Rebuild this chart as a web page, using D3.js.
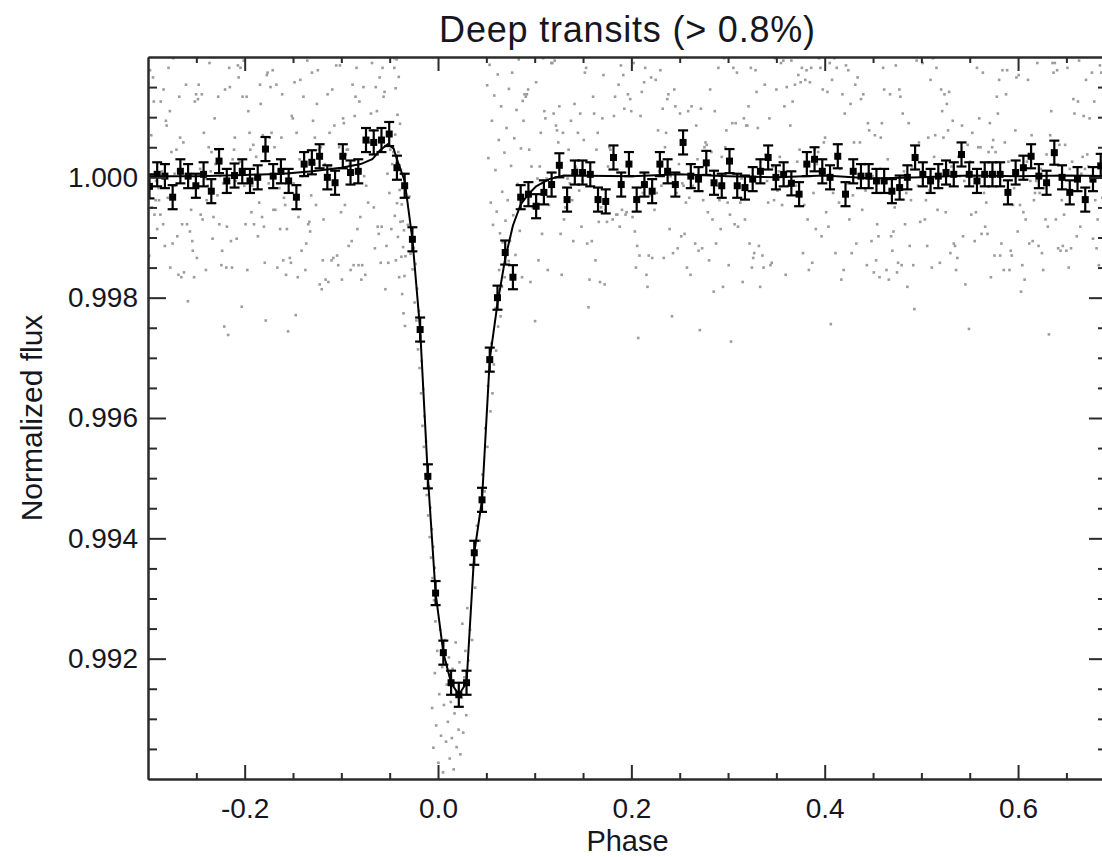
<!DOCTYPE html>
<html>
<head>
<meta charset="utf-8">
<script src="https://cdn.jsdelivr.net/npm/d3@7"></script>
<style>
body { margin: 0; background: #fff; }
svg { display: block; font-family: "Liberation Sans", Arial, Helvetica, sans-serif; }
.axis path, .axis line { stroke: #2b2b2b; stroke-width: 2; }
.axis text { font-size: 28px; fill: #16161e; }
.bin line { stroke: #000; stroke-width: 2.2; }
.bin rect { fill: #000; }
.curve { fill: none; stroke: #000; stroke-width: 2; }
.dot { fill: #9c9c9c; }
</style>
</head>
<body>
<div id="chart"></div>
<script>
// Binned light curve (phase bin centres and mean flux)
var binPhase = [
  -0.2985, -0.2905, -0.2825, -0.2745, -0.2665, -0.2585, -0.2505, -0.2425, -0.2345, -0.2265,
  -0.2185, -0.2105, -0.2025, -0.1945, -0.1865, -0.1785, -0.1705, -0.1625, -0.1545, -0.1465,
  -0.1385, -0.1305, -0.1225, -0.1145, -0.1065, -0.0985, -0.0905, -0.0825, -0.0745, -0.0665,
  -0.0585, -0.0505, -0.0425, -0.0345, -0.0265, -0.0185, -0.0105, -0.0025, 0.0055, 0.0135,
  0.0215, 0.0295, 0.0375, 0.0455, 0.0535, 0.0615, 0.0695, 0.0775, 0.0855, 0.0935,
  0.1015, 0.1095, 0.1175, 0.1255, 0.1335, 0.1415, 0.1495, 0.1575, 0.1655, 0.1735,
  0.1815, 0.1895, 0.1975, 0.2055, 0.2135, 0.2215, 0.2295, 0.2375, 0.2455, 0.2535,
  0.2615, 0.2695, 0.2775, 0.2855, 0.2935, 0.3015, 0.3095, 0.3175, 0.3255, 0.3335,
  0.3415, 0.3495, 0.3575, 0.3655, 0.3735, 0.3815, 0.3895, 0.3975, 0.4055, 0.4135,
  0.4215, 0.4295, 0.4375, 0.4455, 0.4535, 0.4615, 0.4695, 0.4775, 0.4855, 0.4935,
  0.5015, 0.5095, 0.5175, 0.5255, 0.5335, 0.5415, 0.5495, 0.5575, 0.5655, 0.5735,
  0.5815, 0.5895, 0.5975, 0.6055, 0.6135, 0.6215, 0.6295, 0.6375, 0.6455, 0.6535,
  0.6615, 0.6695, 0.6775, 0.6855, 0.6935
];
var binFlux = [
  0.99985, 1.00005, 1.00002, 0.99967, 1.00010, 1.00002, 0.99986, 1.00005, 0.99977, 1.00027,
  0.99994, 1.00003, 1.00010, 0.99994, 1.00000, 1.00047, 1.00002, 1.00010, 0.99994, 0.99967,
  1.00022, 1.00025, 1.00035, 1.00000, 0.99991, 1.00035, 1.00008, 1.00010, 1.00062, 1.00058,
  1.00062, 1.00072, 1.00016, 0.99986, 0.99897, 0.99747, 0.99503, 0.99309, 0.99210, 0.99160,
  0.99140, 0.99160, 0.99376, 0.99464, 0.99697, 0.99800, 0.99875, 0.99834, 0.99967, 0.99972,
  0.99952, 0.99975, 0.99988, 1.00020, 0.99963, 1.00008, 1.00008, 1.00005, 0.99963, 0.99960,
  1.00033, 0.99988, 1.00022, 0.99963, 0.99988, 0.99977, 1.00022, 1.00010, 0.99988, 1.00058,
  1.00002, 0.99997, 1.00024, 0.99991, 0.99986, 1.00027, 0.99986, 0.99983, 0.99997, 1.00010,
  1.00033, 1.00000, 1.00005, 0.99990, 0.99972, 1.00022, 1.00030, 1.00010, 1.00000, 1.00035,
  0.99972, 1.00010, 1.00002, 1.00002, 0.99994, 0.99994, 0.99977, 0.99983, 1.00000, 1.00033,
  1.00005, 0.99994, 1.00002, 1.00008, 1.00005, 1.00038, 1.00005, 0.99994, 1.00005, 1.00005,
  1.00005, 0.99975, 1.00008, 1.00016, 1.00035, 1.00002, 0.99991, 1.00041, 1.00000, 0.99975,
  0.99997, 0.99963, 0.99997, 1.00019, 1.00000
];
var binError = 0.0002;

// Smoothed curve drawn through the bins
var curvePhase = [-0.300, -0.250, -0.200, -0.160, -0.130, -0.100, -0.080, -0.068, -0.060, -0.052,
  -0.046, -0.0425, -0.0345, -0.0265, -0.0185, -0.0105, -0.0025, 0.0055, 0.0135, 0.0215,
  0.0295, 0.0375, 0.0455, 0.0535, 0.0615, 0.0695, 0.0775, 0.0855, 0.0935, 0.1015,
  0.115, 0.130, 0.200, 0.250, 0.300, 0.350, 0.400, 0.450, 0.500, 0.550, 0.600, 0.650, 0.692];
var curveFlux = [1.00002, 1.00002, 1.00004, 1.00006, 1.00010, 1.00016, 1.00022, 1.00030, 1.00045, 1.00055,
  1.00048, 1.00030, 0.99994, 0.99897, 0.99747, 0.99503, 0.99309, 0.99210, 0.99160, 0.99140,
  0.99160, 0.99376, 0.99464, 0.99697, 0.99790, 0.99865, 0.99920, 0.99955, 0.99972, 0.99985,
  0.99997, 1.00003, 1.00002, 1.00005, 1.00002, 1.00000, 1.00003, 0.99998, 1.00000, 1.00003, 1.00002, 1.00003, 1.00002];

// Unbinned measurements before ingress
var beforePhase = [
  -0.2994,-0.2987,-0.2979,-0.2966,-0.2961,-0.2948,-0.2940,-0.2933,-0.2921,-0.2917,-0.2905,-0.2891,-0.2886,-0.2872,-0.2868,-0.2855,
  -0.2843,-0.2839,-0.2826,-0.2815,-0.2807,-0.2796,-0.2788,-0.2774,-0.2769,-0.2757,-0.2745,-0.2738,-0.2725,-0.2719,-0.2706,-0.2697,
  -0.2685,-0.2676,-0.2668,-0.2655,-0.2647,-0.2634,-0.2628,-0.2614,-0.2607,-0.2596,-0.2587,-0.2573,-0.2566,-0.2554,-0.2542,-0.2537,
  -0.2523,-0.2515,-0.2502,-0.2494,-0.2483,-0.2476,-0.2461,-0.2455,-0.2443,-0.2435,-0.2422,-0.2414,-0.2401,-0.2393,-0.2382,-0.2372,
  -0.2364,-0.2351,-0.2343,-0.2332,-0.2323,-0.2311,-0.2302,-0.2295,-0.2281,-0.2274,-0.2262,-0.2254,-0.2241,-0.2233,-0.2222,-0.2211,
  -0.2203,-0.2190,-0.2184,-0.2171,-0.2160,-0.2153,-0.2142,-0.2131,-0.2124,-0.2110,-0.2102,-0.2091,-0.2083,-0.2070,-0.2062,-0.2051,
  -0.2043,-0.2030,-0.2022,-0.2010,-0.2004,-0.1991,-0.1980,-0.1973,-0.1962,-0.1950,-0.1942,-0.1930,-0.1922,-0.1911,-0.1903,-0.1890,
  -0.1881,-0.1870,-0.1863,-0.1850,-0.1841,-0.1834,-0.1820,-0.1812,-0.1801,-0.1792,-0.1782,-0.1771,-0.1763,-0.1751,-0.1741,-0.1733,
  -0.1722,-0.1710,-0.1703,-0.1691,-0.1683,-0.1672,-0.1662,-0.1653,-0.1641,-0.1633,-0.1620,-0.1612,-0.1601,-0.1594,-0.1581,-0.1572,
  -0.1563,-0.1551,-0.1542,-0.1533,-0.1521,-0.1513,-0.1502,-0.1493,-0.1484,-0.1472,-0.1463,-0.1451,-0.1443,-0.1432,-0.1424,-0.1411,
  -0.1403,-0.1392,-0.1383,-0.1372,-0.1363,-0.1352,-0.1343,-0.1331,-0.1323,-0.1312,-0.1304,-0.1293,-0.1281,-0.1274,-0.1262,-0.1253,
  -0.1243,-0.1232,-0.1224,-0.1212,-0.1203,-0.1192,-0.1184,-0.1172,-0.1163,-0.1153,-0.1142,-0.1134,-0.1122,-0.1113,-0.1102,-0.1094,
  -0.1083,-0.1072,-0.1064,-0.1053,-0.1044,-0.1032,-0.1023,-0.1014,-0.1003,-0.0994,-0.0982,-0.0974,-0.0963,-0.0953,-0.0944,-0.0932,
  -0.0924,-0.0913,-0.0904,-0.0893,-0.0884,-0.0873,-0.0862,-0.0854,-0.0843,-0.0834,-0.0822,-0.0813,-0.0804,-0.0793,-0.0784,-0.0772,
  -0.0764,-0.0752,-0.0743,-0.0734,-0.0723,-0.0714,-0.0702,-0.0694,-0.0683,-0.0673,-0.0664,-0.0653,-0.0644,-0.0632,-0.0624,-0.0613,
  -0.0604,-0.0593,-0.0583,-0.0574,-0.0563,-0.0553,-0.0544,-0.0533,-0.0523,-0.0514,-0.0503,-0.0494,-0.0483,-0.0474,-0.0462,-0.0453
];
var beforeFlux = [
  0.99866,0.99870,1.00178,1.00070,0.99950,1.00166,1.00126,0.99938,0.99962,0.99994,0.99914,0.99982,0.99962,0.99938,1.00126,1.00010,
  0.99922,1.00146,0.99886,1.00094,1.00086,0.99966,1.00182,1.00110,0.99850,1.00042,0.99890,1.00198,1.00006,0.99986,1.00046,0.99902,
  0.99838,1.00134,1.00066,0.99834,0.99922,1.00058,0.99842,1.00206,1.00154,0.99922,0.99794,1.00002,0.99910,0.99946,0.99894,0.99878,
  0.99834,1.00126,1.00138,0.99866,1.00130,1.00154,1.00014,0.99938,1.00138,0.99930,1.00074,0.99998,0.99846,0.99962,0.99986,1.00050,
  1.00190,1.00010,1.00042,0.99898,0.99934,1.00098,1.00022,1.00046,0.99970,1.00134,0.99922,1.00002,0.99854,0.99878,0.99990,0.99752,
  1.00146,0.99850,0.99918,0.99738,1.00182,1.00150,0.99894,0.99850,1.00030,1.00046,1.00066,0.99994,0.99898,1.00186,1.00166,1.00026,
  1.00182,0.99785,1.00134,1.00194,0.99986,0.99922,1.00134,0.99846,1.00110,1.00074,1.00046,0.99942,0.99986,1.00054,0.99922,0.99998,
  1.00034,1.00002,0.99902,0.99958,1.00154,1.00122,0.99934,1.00070,0.99918,0.99858,0.99762,1.00170,1.00174,0.99990,1.00066,1.00150,
  1.00074,1.00178,0.99946,1.00050,0.99946,1.00154,0.99850,0.99990,0.99982,0.99914,1.00066,1.00138,0.99862,0.99966,0.99954,0.99838,
  0.99914,0.99744,1.00006,0.99866,0.99858,1.00102,1.00098,0.99990,1.00158,0.99771,1.00074,0.99834,0.99934,1.00030,1.00162,0.99878,
  1.00002,1.00134,1.00018,0.99846,0.99890,1.00194,0.99922,0.99926,0.99910,0.99970,1.00174,1.00094,1.00022,1.00066,0.99954,1.00122,
  1.00178,1.00046,0.99822,1.00050,0.99814,0.99862,0.99930,1.00022,0.99830,1.00002,1.00138,0.99826,1.00074,1.00018,0.99862,1.00146,
  0.99866,1.00086,1.00014,1.00186,0.99870,0.99854,1.00050,1.00186,0.99942,0.99830,1.00098,1.00090,0.99954,1.00038,1.00046,1.00046,
  0.99886,1.00022,0.99846,0.99894,1.00154,0.99854,1.00102,1.00134,1.00182,0.99914,0.99854,1.00126,0.99934,0.99830,0.99854,1.00150,
  1.00002,0.99838,0.99986,1.00058,0.99958,1.00206,1.00058,1.00106,1.00190,1.00078,0.99950,0.99882,1.00150,1.00110,0.99918,0.99906,
  1.00166,0.99858,0.99918,1.00182,1.00134,1.00142,0.99814,0.99886,1.00006,0.99858,0.99974,1.00046,0.99914,1.00022,1.00042,1.00198
];

// Unbinned measurements through ingress, transit bottom and egress, [phase, flux]
var transitPoints = [
  [-0.0452,1.00182],[-0.0447,0.99936],[-0.0443,1.00071],[-0.0439,1.00148],[-0.0436,0.99862],[-0.0431,1.00023],[-0.0428,1.00196],[-0.0424,0.99957],
  [-0.0419,1.00104],[-0.0415,0.99901],[-0.0411,1.00042],[-0.0406,1.00167],[-0.0402,0.99834],[-0.0397,0.99979],[-0.0393,1.00089],[-0.0389,0.99926],
  [-0.0384,1.00013],[-0.0379,0.99868],[-0.0375,0.99955],[-0.0371,0.99806],[-0.0366,0.99927],[-0.0361,0.99884],[-0.0357,0.99774],[-0.0352,0.99912],
  [-0.0347,0.99836],[-0.0342,0.99753],[-0.0337,0.99869],[-0.0312,0.99921],[-0.0296,0.99968],[-0.0285,0.99873],[-0.0274,0.99912],[-0.0263,0.99847],
  [-0.0251,0.99883],[-0.0242,0.99792],[-0.0233,0.99856],[-0.0224,0.99762],[-0.0216,0.99815],[-0.0207,0.99714],[-0.0198,0.99778],[-0.0191,0.99683],
  [-0.0183,0.99736],[-0.0176,0.99641],[-0.0168,0.99695],[-0.0161,0.99587],[-0.0153,0.99648],[-0.0146,0.99552],[-0.0139,0.99603],[-0.0131,0.99506],
  [-0.0124,0.99561],[-0.0117,0.99472],[-0.0109,0.99523],[-0.0102,0.99438],[-0.0094,0.99486],[-0.0087,0.99402],[-0.0079,0.99451],[-0.0072,0.99368],
  [-0.0064,0.99415],[-0.0057,0.99334],[-0.0049,0.99386],[-0.0042,0.99297],[-0.0034,0.99351],[-0.0027,0.99262],
  [-0.0061,0.99118],[-0.0048,0.99052],[-0.0033,0.99176],[-0.0019,0.99089],[-0.0008,0.99213],[0.0004,0.99027],[0.0013,0.99141],[0.0022,0.99248],
  [0.0031,0.99072],[0.0043,0.99186],[0.0052,0.99011],[0.0061,0.99123],[0.0072,0.99231],[0.0083,0.99062],[0.0091,0.99157],[0.0102,0.99095],
  [0.0113,0.99202],[0.0121,0.99034],[0.0132,0.99128],[0.0143,0.99068],[0.0151,0.99183],[0.0162,0.99016],[0.0171,0.99109],[0.0183,0.99227],
  [0.0192,0.99053],[0.0201,0.99146],[0.0213,0.99082],[0.0222,0.99194],[0.0231,0.99041],[0.0243,0.99135],[0.0252,0.99258],[0.0261,0.99077],
  [0.0272,0.99169],[0.0283,0.99213],[0.0292,0.99106],[0.0303,0.99284],[0.0314,0.99197],
  [0.0331,0.99248],[0.0352,0.99231],[0.0362,0.99352],[0.0384,0.99318],[0.0402,0.99421],[0.0431,0.99396],[0.0459,0.99506],[0.0482,0.99478],
  [0.0488,0.99583],[0.0511,0.99552],[0.0517,0.99653],[0.0542,0.99611],[0.0563,0.99641],[0.0552,0.99724],[0.0578,0.99689],[0.0601,0.99712],
  [0.0596,0.99783],[0.0622,0.99752],[0.0647,0.99769],[0.0632,0.99846],[0.0661,0.99818],[0.0689,0.99834],[0.0668,0.99892],[0.0703,0.99873],
  [0.0731,0.99861],
  [0.0508,1.00153],[0.0521,1.00032],[0.0533,1.00187],[0.0546,0.99958],[0.0557,1.00094],[0.0569,0.99921],[0.0582,1.00136],[0.0594,1.00012],
  [0.0607,0.99943],[0.0618,1.00171],[0.0629,1.00062],[0.0641,0.99907],[0.0653,1.00118],[0.0664,0.99976],[0.0676,1.00203],[0.0687,1.00041],
  [0.0698,0.99928],[0.0709,1.00082],[0.0721,0.99962],[0.0733,1.00147],[0.0744,0.99894],[0.0756,1.00019],[0.0767,1.00174],[0.0778,0.99937],
  [0.0789,1.00065],[0.0801,0.99871],[0.0812,1.00112],[0.0823,0.99989],[0.0835,1.00196],[0.0846,0.99911],[0.0858,1.00048],[0.0869,0.99834],
  [0.0876,1.00127]
];

// Unbinned measurements after egress
var afterPhase = [
  0.0884,0.0895,0.0908,0.0919,0.0932,0.0943,0.0956,0.0967,0.0980,0.0991,0.1004,0.1015,0.1028,0.1039,0.1052,0.1063,0.1076,0.1087,0.1100,0.1111,
  0.1124,0.1135,0.1148,0.1159,0.1172,0.1183,0.1196,0.1207,0.1220,0.1231,0.1244,0.1255,0.1268,0.1279,0.1292,0.1303,0.1316,0.1327,0.1340,0.1351,
  0.1364,0.1375,0.1388,0.1399,0.1412,0.1423,0.1436,0.1447,0.1460,0.1471,0.1484,0.1495,0.1508,0.1519,0.1532,0.1543,0.1556,0.1567,0.1580,0.1591,
  0.1604,0.1615,0.1628,0.1639,0.1652,0.1663,0.1676,0.1687,0.1700,0.1711,0.1724,0.1735,0.1748,0.1759,0.1772,0.1783,0.1796,0.1807,0.1820,0.1831,
  0.1844,0.1855,0.1868,0.1879,0.1892,0.1903,0.1916,0.1927,0.1940,0.1951,0.1964,0.1975,0.1988,0.1999,0.2012,0.2023,0.2036,0.2047,0.2060,0.2071,
  0.2084,0.2095,0.2108,0.2119,0.2132,0.2143,0.2156,0.2167,0.2180,0.2191,0.2204,0.2215,0.2228,0.2239,0.2252,0.2263,0.2276,0.2287,0.2300,0.2311,
  0.2324,0.2335,0.2348,0.2359,0.2372,0.2383,0.2396,0.2407,0.2420,0.2431,0.2444,0.2455,0.2468,0.2479,0.2492,0.2503,0.2516,0.2527,0.2540,0.2551,
  0.2564,0.2575,0.2588,0.2599,0.2612,0.2623,0.2636,0.2647,0.2660,0.2671,0.2684,0.2695,0.2708,0.2719,0.2732,0.2743,0.2756,0.2767,0.2780,0.2791,
  0.2804,0.2815,0.2828,0.2839,0.2852,0.2863,0.2876,0.2887,0.2900,0.2911,0.2924,0.2935,0.2948,0.2959,0.2972,0.2983,0.2996,0.3007,0.3020,0.3031,
  0.3044,0.3055,0.3068,0.3079,0.3092,0.3103,0.3116,0.3127,0.3140,0.3151,0.3164,0.3175,0.3188,0.3199,0.3212,0.3223,0.3236,0.3247,0.3260,0.3271,
  0.3284,0.3295,0.3308,0.3319,0.3332,0.3343,0.3356,0.3367,0.3380,0.3391,0.3404,0.3415,0.3428,0.3439,0.3452,0.3463,0.3476,0.3487,0.3500,0.3511,
  0.3524,0.3535,0.3548,0.3559,0.3572,0.3583,0.3596,0.3607,0.3620,0.3631,0.3644,0.3655,0.3668,0.3679,0.3692,0.3703,0.3716,0.3727,0.3740,0.3751,
  0.3764,0.3775,0.3788,0.3799,0.3812,0.3823,0.3836,0.3847,0.3860,0.3871,0.3884,0.3895,0.3908,0.3919,0.3932,0.3943,0.3956,0.3967,0.3980,0.3991,
  0.4004,0.4015,0.4028,0.4039,0.4052,0.4063,0.4076,0.4087,0.4100,0.4111,0.4124,0.4135,0.4148,0.4159,0.4172,0.4183,0.4196,0.4207,0.4220,0.4231,
  0.4244,0.4255,0.4268,0.4279,0.4292,0.4303,0.4316,0.4327,0.4340,0.4351,0.4364,0.4375,0.4388,0.4399,0.4412,0.4423,0.4436,0.4447,0.4460,0.4471,
  0.4484,0.4495,0.4508,0.4519,0.4532,0.4543,0.4556,0.4567,0.4580,0.4591,0.4604,0.4615,0.4628,0.4639,0.4652,0.4663,0.4676,0.4687,0.4700,0.4711,
  0.4724,0.4735,0.4748,0.4759,0.4772,0.4783,0.4796,0.4807,0.4820,0.4831,0.4844,0.4855,0.4868,0.4879,0.4892,0.4903,0.4916,0.4927,0.4940,0.4951,
  0.4964,0.4975,0.4988,0.4999,0.5012,0.5023,0.5036,0.5047,0.5060,0.5071,0.5084,0.5095,0.5108,0.5119,0.5132,0.5143,0.5156,0.5167,0.5180,0.5191,
  0.5204,0.5215,0.5228,0.5239,0.5252,0.5263,0.5276,0.5287,0.5300,0.5311,0.5324,0.5335,0.5348,0.5359,0.5372,0.5383,0.5396,0.5407,0.5420,0.5431,
  0.5444,0.5455,0.5468,0.5479,0.5492,0.5503,0.5516,0.5527,0.5540,0.5551,0.5564,0.5575,0.5588,0.5599,0.5612,0.5623,0.5636,0.5647,0.5660,0.5671,
  0.5684,0.5695,0.5708,0.5719,0.5732,0.5743,0.5756,0.5767,0.5780,0.5791,0.5804,0.5815,0.5828,0.5839,0.5852,0.5863,0.5876,0.5887,0.5900,0.5911,
  0.5924,0.5935,0.5948,0.5959,0.5972,0.5983,0.5996,0.6007,0.6020,0.6031,0.6044,0.6055,0.6068,0.6079,0.6092,0.6103,0.6116,0.6127,0.6140,0.6151,
  0.6164,0.6175,0.6188,0.6199,0.6212,0.6223,0.6236,0.6247,0.6260,0.6271,0.6284,0.6295,0.6308,0.6319,0.6332,0.6343,0.6356,0.6367,0.6380,0.6391,
  0.6404,0.6415,0.6428,0.6439,0.6452,0.6463,0.6476,0.6487,0.6500,0.6511,0.6524,0.6535,0.6548,0.6559,0.6572,0.6583,0.6596,0.6607,0.6620,0.6631,
  0.6644,0.6655,0.6668,0.6679,0.6692,0.6703,0.6716,0.6727,0.6740,0.6751,0.6764,0.6775,0.6788,0.6799,0.6812,0.6823,0.6836,0.6847,0.6860,0.6871
];
var afterFlux = [
  1.00094,1.00138,1.00134,1.00138,1.00146,1.00046,0.99826,1.00018,0.99950,0.99954,0.99761,1.00158,0.99998,0.99862,1.00018,1.00074,0.99906,1.00198,1.00110,1.00098,
  0.99998,0.99846,0.99954,1.00206,1.00190,1.00190,1.00106,1.00194,1.00086,1.00078,1.00058,1.00118,0.99906,0.99838,1.00074,0.99930,0.99950,0.99950,0.99998,1.00046,
  0.99990,1.00094,0.99962,0.99894,1.00122,1.00018,1.00014,1.00074,0.99978,1.00106,0.99918,0.99994,1.00062,1.00174,1.00182,0.99890,0.99784,0.99830,1.00206,0.99894,
  1.00134,1.00106,0.99862,1.00046,1.00074,0.99926,0.99826,0.99950,1.00098,1.00170,0.99822,0.99946,0.99926,1.00018,1.00050,1.00046,1.00034,0.99930,1.00102,1.00134,
  0.99938,0.99938,1.00154,0.99918,1.00186,0.99946,1.00170,1.00114,0.99938,0.99942,1.00138,1.00202,1.00130,1.00110,0.99934,1.00190,0.99910,0.99850,0.99886,0.99733,
  0.99870,1.00102,1.00142,0.99974,1.00158,1.00182,0.99838,0.99818,0.99870,0.99970,1.00166,0.99866,1.00206,0.99946,1.00162,0.99974,1.00078,1.00010,1.00178,0.99986,
  1.00114,0.99866,1.00050,1.00074,1.00130,1.00138,0.99914,1.00002,0.99769,0.99874,1.00146,1.00118,0.99974,0.99882,1.00022,1.00106,0.99902,0.99990,0.99986,0.99906,
  0.99958,0.99850,1.00110,0.99966,0.99838,1.00118,0.99986,1.00206,0.99890,1.00086,1.00030,0.99878,0.99746,1.00114,0.99882,0.99962,1.00050,1.00058,1.00054,0.99942,
  0.99862,1.00146,1.00042,0.99930,0.99810,1.00110,0.99890,0.99986,1.00182,0.99962,0.99914,1.00034,0.99818,1.00198,1.00050,1.00078,0.99958,0.99854,0.99938,0.99727,
  1.00090,1.00182,0.99922,1.00090,1.00174,0.99918,0.99986,0.99958,0.99998,0.99826,1.00098,0.99930,1.00086,1.00086,1.00118,0.99890,1.00182,0.99850,0.99866,0.99874,
  1.00178,1.00142,1.00082,0.99886,0.99818,1.00030,0.99870,0.99850,1.00154,1.00038,0.99994,0.99958,1.00098,0.99854,0.99858,1.00018,0.99962,1.00198,1.00146,0.99978,
  1.00010,1.00034,1.00190,0.99954,1.00194,1.00118,0.99838,1.00150,0.99986,1.00206,1.00086,1.00194,1.00126,0.99994,1.00154,0.99986,1.00026,1.00170,1.00046,1.00158,
  1.00182,0.99874,0.99954,1.00162,1.00178,0.99930,0.99846,1.00158,1.00182,0.99858,0.99974,1.00046,0.99914,1.00022,1.00042,1.00198,1.00182,0.99902,1.00146,1.00058,
  1.00066,0.99942,1.00142,0.99918,1.00190,0.99756,1.00162,0.99974,1.00198,0.99874,1.00182,1.00206,0.99958,1.00014,0.99830,1.00138,0.99846,1.00106,1.00186,0.99990,
  1.00178,0.99930,1.00122,0.99874,0.99970,1.00058,1.00154,0.99890,1.00166,1.00202,1.00058,1.00130,0.99946,1.00138,1.00022,0.99978,0.99854,1.00090,1.00078,1.00202,
  0.99894,1.00002,0.99842,1.00070,0.99862,0.99922,0.99902,0.99834,1.00066,1.00090,1.00182,1.00146,0.99994,0.99846,1.00030,0.99830,1.00138,0.99902,0.99878,0.99910,
  0.99950,1.00186,0.99842,0.99858,1.00146,1.00134,0.99854,1.00106,1.00010,0.99922,0.99974,0.99818,1.00090,0.99886,0.99962,1.00018,0.99854,0.99781,1.00030,1.00194,
  0.99986,1.00058,0.99926,1.00002,1.00190,1.00006,0.99930,0.99962,0.99886,1.00066,0.99978,1.00162,0.99850,1.00198,1.00034,1.00070,1.00182,0.99946,0.99994,0.99858,
  1.00146,1.00110,1.00066,1.00138,0.99942,1.00122,1.00078,1.00142,0.99874,1.00018,1.00094,0.99890,0.99886,0.99846,0.99866,1.00034,1.00002,1.00034,1.00086,0.99902,
  0.99994,0.99822,1.00002,1.00054,0.99748,1.00026,0.99938,1.00074,1.00002,0.99894,0.99942,1.00182,1.00050,1.00098,1.00050,0.99906,1.00174,0.99974,0.99918,0.99958,
  0.99906,1.00042,1.00090,0.99834,1.00050,1.00062,0.99870,1.00042,1.00134,1.00106,1.00162,0.99870,0.99890,1.00178,0.99846,1.00058,1.00138,1.00178,1.00026,0.99846,
  0.99878,0.99870,0.99954,0.99982,1.00078,1.00166,0.99910,1.00170,0.99954,0.99810,0.99854,0.99942,0.99830,0.99930,1.00026,1.00162,0.99890,0.99994,1.00070,0.99894,
  0.99962,0.99974,0.99994,1.00190,0.99886,0.99974,1.00014,0.99874,0.99846,0.99982,0.99930,1.00038,0.99918,0.99739,1.00070,1.00110,1.00190,1.00174,1.00190,0.99930,
  1.00178,0.99882,1.00054,0.99878,0.99962,0.99886,0.99938,1.00054,0.99878,1.00182,0.99850,1.00014,0.99882,1.00026,1.00130,1.00106,0.99994,0.99902,1.00126,1.00194,
  0.99918,1.00006,1.00034,1.00102,1.00014,1.00162,1.00038,1.00018,1.00098,1.00002,1.00174,0.99898,1.00126,0.99962,0.99882,0.99930,0.99854,1.00186,1.00174,0.99966
];

// Axis ticks and labels
var xMajorTicks = [-0.2, 0.0, 0.2, 0.4, 0.6];
var xMinorTicks = [-0.25, -0.15, -0.1, -0.05, 0.05, 0.1, 0.15, 0.25, 0.3, 0.35, 0.45, 0.5, 0.55, 0.65];
var yMajorTicks = [0.992, 0.994, 0.996, 0.998, 1.000];
var yMinorTicks = [0.9905, 0.991, 0.9915, 0.9925, 0.993, 0.9935, 0.9945, 0.995, 0.9955,
  0.9965, 0.997, 0.9975, 0.9985, 0.999, 0.9995, 1.0005, 1.001, 1.0015];
var xDomain = [-0.3, 0.692];
var yDomain = [0.990, 1.002];
var titleText = "Deep transits (> 0.8%)";
var xTitle = "Phase";
var yTitle = "Normalized flux";

/**
 * Draws the phase-folded light curve.
 */
function LightCurve() {

}

LightCurve.WIDTH = 1102;
LightCurve.HEIGHT = 857;
LightCurve.LEFT = 148;
LightCurve.RIGHT = 1107;
LightCurve.TOP = 57;
LightCurve.BOTTOM = 779;

LightCurve.draw = function(location) {
    var svg = d3.select(location).append("svg")
        .attr("width", LightCurve.WIDTH)
        .attr("height", LightCurve.HEIGHT)

    var x = d3.scaleLinear().domain(xDomain).range([LightCurve.LEFT, LightCurve.RIGHT]);
    var y = d3.scaleLinear().domain(yDomain).range([LightCurve.BOTTOM, LightCurve.TOP]);

    svg.append("clipPath")
        .attr("id", "plotClip")
      .append("rect")
        .attr("x", LightCurve.LEFT)
        .attr("y", LightCurve.TOP)
        .attr("width", LightCurve.RIGHT - LightCurve.LEFT)
        .attr("height", LightCurve.BOTTOM - LightCurve.TOP)

    var plot = svg.append("g").attr("clip-path", "url(#plotClip)");

    var points = d3.zip(beforePhase, beforeFlux)
        .concat(transitPoints, d3.zip(afterPhase, afterFlux));

    LightCurve.drawScatter(plot, x, y, points);
    LightCurve.drawCurve(plot, x, y);
    LightCurve.drawBins(plot, x, y);
    LightCurve.drawAxes(svg, x, y);
    LightCurve.drawTitles(svg);
}

/**
 * Grey cloud of unbinned points.
 */
LightCurve.drawScatter = function(plot, x, y, points) {
    plot.selectAll(".dot")
        .data(points)
        .enter()
        .append("rect")
        .attr("class", "dot")
        .attr("x", function(d) { return x(d[0]) - 1.3; })
        .attr("y", function(d) { return y(d[1]) - 1.3; })
        .attr("width", 2.6)
        .attr("height", 2.6)
}

LightCurve.drawCurve = function(plot, x, y) {
    var line = d3.line()
        .x(function(d) { return x(d[0]); })
        .y(function(d) { return y(d[1]); })

    plot.append("path")
        .attr("class", "curve")
        .attr("d", line(d3.zip(curvePhase, curveFlux)))
}

/**
 * Binned points with error bars and caps.
 */
LightCurve.drawBins = function(plot, x, y) {
    var capHalf = 5;
    var bins = plot.selectAll(".bin")
        .data(d3.zip(binPhase, binFlux))
        .enter()
        .append("g")
        .attr("class", "bin")

    bins.append("line")
        .attr("x1", function(d) { return x(d[0]); })
        .attr("x2", function(d) { return x(d[0]); })
        .attr("y1", function(d) { return y(d[1] - binError); })
        .attr("y2", function(d) { return y(d[1] + binError); })

    bins.append("line")
        .attr("x1", function(d) { return x(d[0]) - capHalf; })
        .attr("x2", function(d) { return x(d[0]) + capHalf; })
        .attr("y1", function(d) { return y(d[1] + binError); })
        .attr("y2", function(d) { return y(d[1] + binError); })

    bins.append("line")
        .attr("x1", function(d) { return x(d[0]) - capHalf; })
        .attr("x2", function(d) { return x(d[0]) + capHalf; })
        .attr("y1", function(d) { return y(d[1] - binError); })
        .attr("y2", function(d) { return y(d[1] - binError); })

    bins.append("rect")
        .attr("x", function(d) { return x(d[0]) - 3.5; })
        .attr("y", function(d) { return y(d[1]) - 3.5; })
        .attr("width", 7)
        .attr("height", 7)
}

/**
 * Box axes with inward major and minor ticks on all four sides.
 */
LightCurve.drawAxes = function(svg, x, y) {
    var none = function() { return ""; };

    var bottom = svg.append("g")
        .attr("class", "axis")
        .attr("transform", "translate(0," + LightCurve.BOTTOM + ")")
        .call(d3.axisBottom(x).tickValues(xMajorTicks).tickSizeInner(-14).tickSizeOuter(0)
              .tickFormat(function(d) { return d.toFixed(1); }))
    bottom.selectAll("text").attr("y", 39).attr("dy", null)

    svg.append("g")
        .attr("class", "axis")
        .attr("transform", "translate(0," + LightCurve.BOTTOM + ")")
        .call(d3.axisBottom(x).tickValues(xMinorTicks).tickSizeInner(-6).tickSizeOuter(0).tickFormat(none))

    svg.append("g")
        .attr("class", "axis")
        .attr("transform", "translate(0," + LightCurve.TOP + ")")
        .call(d3.axisTop(x).tickValues(xMajorTicks).tickSizeInner(-14).tickSizeOuter(0).tickFormat(none))

    svg.append("g")
        .attr("class", "axis")
        .attr("transform", "translate(0," + LightCurve.TOP + ")")
        .call(d3.axisTop(x).tickValues(xMinorTicks).tickSizeInner(-6).tickSizeOuter(0).tickFormat(none))

    var left = svg.append("g")
        .attr("class", "axis")
        .attr("transform", "translate(" + LightCurve.LEFT + ",0)")
        .call(d3.axisLeft(y).tickValues(yMajorTicks).tickSizeInner(-18).tickSizeOuter(0)
              .tickFormat(function(d) { return d.toFixed(3); }))
    left.selectAll("text").attr("x", -10)

    svg.append("g")
        .attr("class", "axis")
        .attr("transform", "translate(" + LightCurve.LEFT + ",0)")
        .call(d3.axisLeft(y).tickValues(yMinorTicks).tickSizeInner(-9).tickSizeOuter(0).tickFormat(none))

    svg.append("g")
        .attr("class", "axis")
        .attr("transform", "translate(" + LightCurve.RIGHT + ",0)")
        .call(d3.axisRight(y).tickValues(yMajorTicks).tickSizeInner(-18).tickSizeOuter(0).tickFormat(none))

    svg.append("g")
        .attr("class", "axis")
        .attr("transform", "translate(" + LightCurve.RIGHT + ",0)")
        .call(d3.axisRight(y).tickValues(yMinorTicks).tickSizeInner(-9).tickSizeOuter(0).tickFormat(none))
}

LightCurve.drawTitles = function(svg) {
    var midX = (LightCurve.LEFT + LightCurve.RIGHT) / 2;
    var midY = (LightCurve.TOP + LightCurve.BOTTOM) / 2;

    svg.append("text")
        .attr("x", midX)
        .attr("y", 42)
        .attr("text-anchor", "middle")
        .style("font-size", "36px")
        .style("letter-spacing", "0.8px")
        .style("fill", "#16161e")
        .text(titleText)

    svg.append("text")
        .attr("x", midX)
        .attr("y", 851)
        .attr("text-anchor", "middle")
        .style("font-size", "29px")
        .style("fill", "#16161e")
        .text(xTitle)

    svg.append("text")
        .attr("transform", "translate(42," + midY + ") rotate(-90)")
        .attr("text-anchor", "middle")
        .style("font-size", "30px")
        .style("fill", "#16161e")
        .text(yTitle)
}

LightCurve.draw("#chart");
</script>
</body>
</html>
